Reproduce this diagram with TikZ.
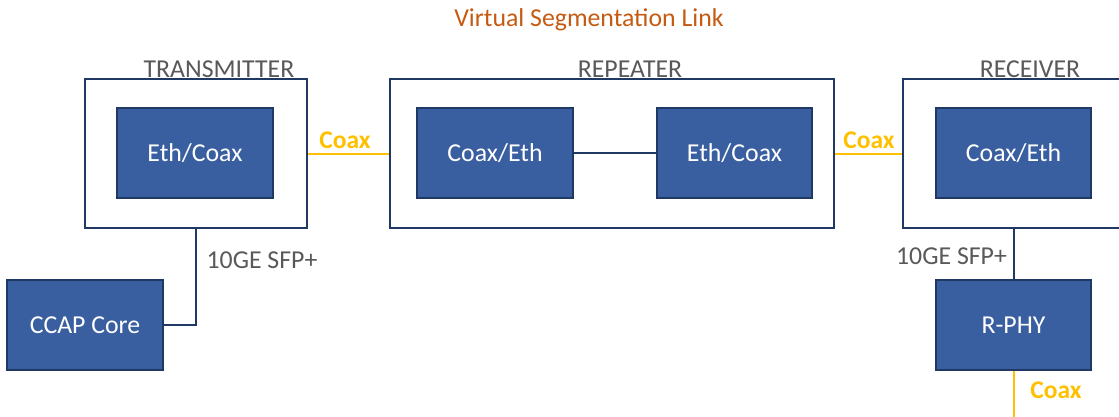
\documentclass[tikz,border=0pt]{standalone}
\usepackage{fontspec}
\setmainfont{Carlito}
\definecolor{boxfill}{HTML}{3A5FA0}
\definecolor{navy}{HTML}{1F3864}
\definecolor{graytext}{HTML}{595959}
\definecolor{titleorange}{HTML}{C55A11}
\definecolor{coaxyellow}{HTML}{FFC000}
\tikzset{
  outerbox/.style={draw=navy, line width=2pt, fill=white, minimum width=222pt, minimum height=149pt, inner sep=0pt},
  bluebox/.style={draw=navy, line width=2pt, fill=boxfill, text=white, minimum width=156pt, minimum height=90pt, inner sep=0pt,
    font=\fontsize{25.8}{30}\selectfont, text height=16pt, text depth=-3pt},
  grouplabel/.style={text=graytext, font=\fontsize{25.8}{30}\selectfont, anchor=base, inner sep=0pt},
  coaxlabel/.style={text=coaxyellow, font=\fontsize{25.5}{30}\selectfont\bfseries, anchor=base, inner sep=0pt},
  ethline/.style={draw=navy, line width=2pt},
  coaxline/.style={draw=coaxyellow, line width=2pt},
}
\begin{document}
\begin{tikzpicture}[x=1pt,y=-1pt]
\useasboundingbox (0,0) rectangle (1119,416);
% title
\node[text=titleorange, font=\fontsize{25.8}{30}\selectfont, anchor=base, inner sep=0pt] (title) at (589,26) {Virtual Segmentation Link};
% outer boxes
\node[outerbox] (txo) at (196,153.5) {};
\node[outerbox, minimum width=444pt] (repo) at (612,153.5) {};
\node[outerbox] (rxo) at (1014,153.5) {};
% group labels
\node[grouplabel] (txl) at (219,77) {TRANSMITTER};
\node[grouplabel] (repl) at (630,77) {REPEATER};
\node[grouplabel] (rxl) at (1030,77) {RECEIVER};
% inner boxes
\node[bluebox] (tx) at (195,153) {Eth/Coax};
\node[bluebox] (rep1) at (495,153) {Coax/Eth};
\node[bluebox, minimum width=155pt] (rep2) at (734.5,153) {Eth/Coax};
\node[bluebox, minimum width=155pt] (rx) at (1013.5,153) {Coax/Eth};
\node[bluebox] (ccap) at (85,325) {CCAP Core};
\node[bluebox, minimum width=155pt] (rphy) at (1013.5,325) {R-PHY};
% connectors
\draw[ethline] (rep1.east) -- (rep2.west);
\draw[coaxline] (txo.east) -- (repo.west);
\draw[coaxline] (repo.east) -- (rxo.west);
\draw[ethline] (txo.south) |- (ccap.east);
\draw[ethline] (rphy.north |- rxo.south) -- (rphy.north);
\coordinate (coaxend) at (1013.5,418);
\draw[coaxline] (rphy.south) -- (coaxend);
% link labels
\node[coaxlabel] (c1) at (345,148) {Coax};
\node[coaxlabel] (c2) at (869,148) {Coax};
\node[coaxlabel] (c3) at (1056,398) {Coax};
\node[grouplabel] (sfp1) at (262,268) {10GE SFP+};
\node[grouplabel] (sfp2) at (951.5,264) {10GE SFP+};
\end{tikzpicture}
\end{document}
